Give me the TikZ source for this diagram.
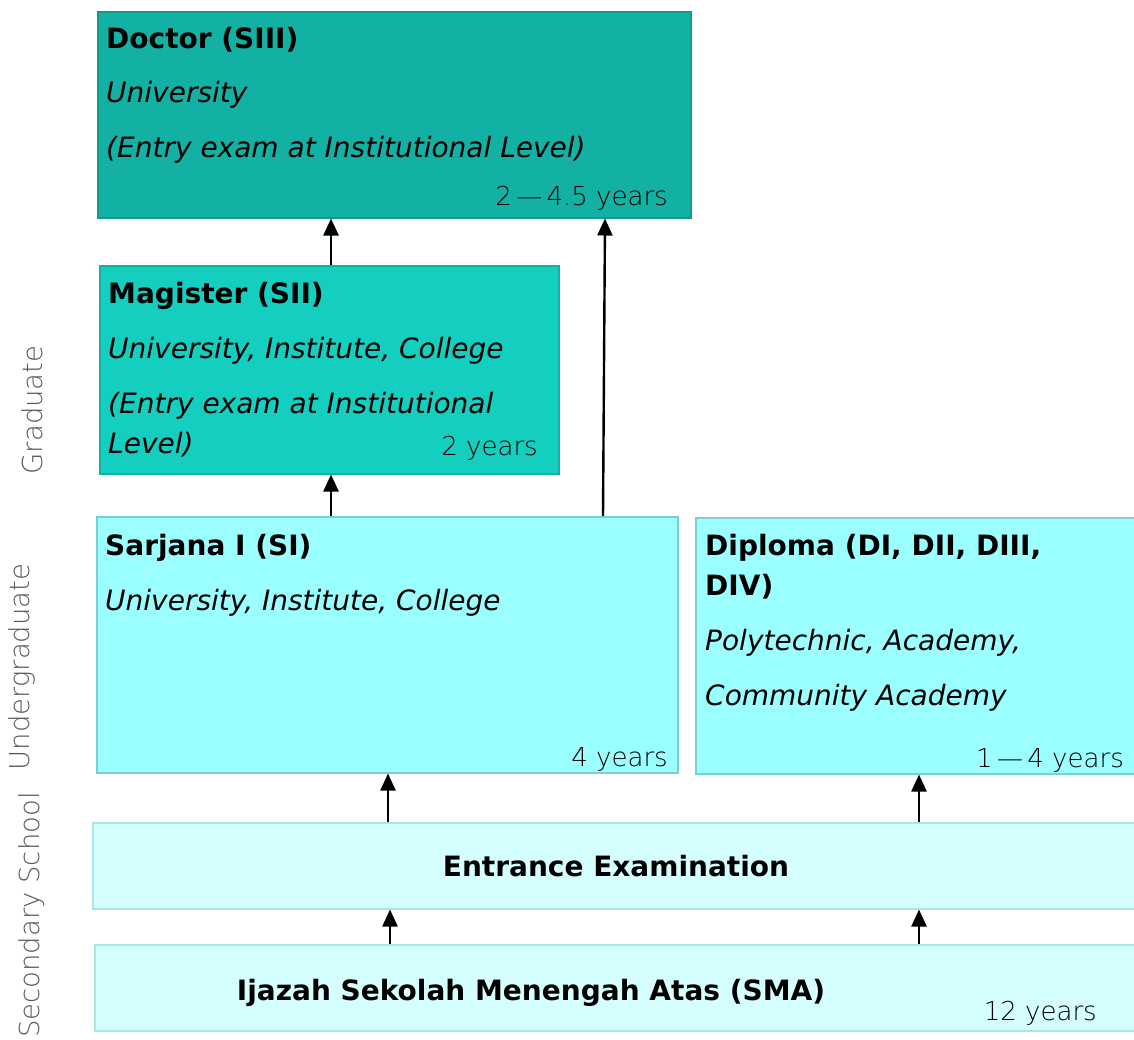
\documentclass[tikz,border=0pt]{standalone}
\usepackage{fontspec}
\setmainfont{DejaVu Sans}
\newfontfamily\thinfont{DejaVu Sans ExtraLight}
\usetikzlibrary{arrows.meta}
\definecolor{docfill}{HTML}{13B1A3}
\definecolor{docline}{HTML}{0F9A8E}
\definecolor{magfill}{HTML}{14CFBF}
\definecolor{magline}{HTML}{10B0A2}
\definecolor{ugfill}{HTML}{9BFFFF}
\definecolor{ugline}{HTML}{7ACFCF}
\definecolor{ssfill}{HTML}{D5FFFF}
\definecolor{ssline}{HTML}{A8E8E2}
\begin{document}
\begin{tikzpicture}[x=1pt,y=-1pt,
  box/.style={rectangle, line width=1.5pt, anchor=north west, inner sep=0pt},
  titletext/.style={anchor=base west, inner sep=0pt, font=\fontsize{28}{32}\selectfont\bfseries},
  insttext/.style={anchor=base west, inner sep=0pt, font=\fontsize{28}{32}\selectfont\itshape},
  yrstext/.style={anchor=base east, inner sep=0pt, font=\fontsize{26}{30}\selectfont\thinfont, text=black},
  sidetext/.style={rotate=90, inner sep=0pt, font=\fontsize{27.5}{32}\selectfont\thinfont, text=black!65},
  arr/.style={-{Triangle[length=17pt,width=15pt]}, line width=2.4pt}]
\useasboundingbox (0,0) rectangle (1134,1039);

% boxes
\node[box, fill=docfill, draw=docline, minimum width=593pt, minimum height=206pt] (doc) at (97,11) {};
\node[box, fill=magfill, draw=magline, minimum width=459pt, minimum height=208pt] (mag) at (99,265) {};
\node[box, fill=ugfill, draw=ugline, minimum width=581pt, minimum height=256pt] (sar) at (96,516) {};
\node[box, fill=ugfill, draw=ugline, minimum width=445pt, minimum height=256pt] (dip) at (695,517) {};
\node[box, fill=ssfill, draw=ssline, minimum width=1050pt, minimum height=86pt] (ent) at (92,822) {};
\node[box, fill=ssfill, draw=ssline, minimum width=1050pt, minimum height=86pt] (ija) at (94,944) {};

% Doctor
\node[titletext] (doct) at (106,48) {Doctor (SIII)};
\node[insttext] (doci) at (106,102) {University};
\node[insttext] (doce) at (106,157) {(Entry exam at Institutional Level)};
\node[yrstext] (docy) at (668,205) {2\,—\,4.5 years};

% Magister
\node[titletext] (magt) at (108,303) {Magister (SII)};
\node[insttext] (magi) at (108,358) {University, Institute, College};
\node[insttext] (mage) at (108,413) {(Entry exam at Institutional};
\node[insttext] (magl) at (108,453) {Level)};
\node[yrstext] (magy) at (538,455) {2 years};

% Sarjana
\node[titletext] (sart) at (105,555) {Sarjana I (SI)};
\node[insttext] (sari) at (105,610) {University, Institute, College};
\node[yrstext] (sary) at (668,766) {4 years};

% Diploma
\node[titletext] (dipt) at (705,555) {Diploma (DI, DII, DIII,};
\node[titletext] (dipt2) at (705,595) {DIV)};
\node[insttext] (dipi) at (705,650) {Polytechnic, Academy,};
\node[insttext] (dipi2) at (705,705) {Community Academy};
\node[yrstext] (dipy) at (1124,767) {1\,—\,4 years};

% Secondary
\node[titletext, anchor=base] (entt) at (616,876) {Entrance Examination};
\node[titletext, anchor=base] (ijat) at (531,1000) {Ijazah Sekolah Menengah Atas (SMA)};
\node[yrstext] (ijay) at (1097,1020) {12 years};

% side labels
\node[sidetext] (lgrad) at (32,410) {Graduate};
\node[sidetext] (lund) at (22,667) {Undergraduate};
\node[sidetext] (lsec) at (32,915) {Secondary School};

% arrows
\draw[arr] ([xshift=232pt]mag.north west) -- ([xshift=234pt]doc.south west);
\draw[arr] ([xshift=235pt]sar.north west) -- ([xshift=232pt]mag.south west);
\draw[arr] ([xshift=507pt]sar.north west) -- ([xshift=508pt]doc.south west);
\draw[arr] ([xshift=296pt]ent.north west) -- ([xshift=292pt]sar.south west);
\draw[arr] ([xshift=827pt]ent.north west) -- ([xshift=224pt]dip.south west);
\draw[arr] ([xshift=296pt]ija.north west) -- ([xshift=298pt]ent.south west);
\draw[arr] ([xshift=825pt]ija.north west) -- ([xshift=827pt]ent.south west);
\end{tikzpicture}
\end{document}
